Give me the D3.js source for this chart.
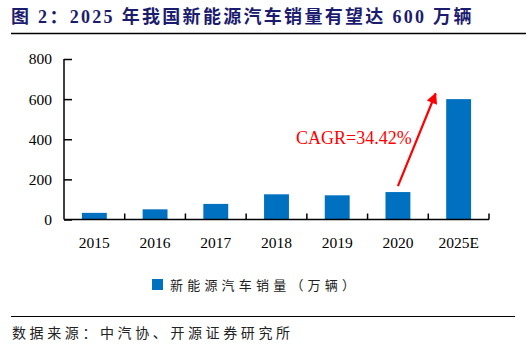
<!DOCTYPE html>
<html lang="zh">
<head>
<meta charset="UTF-8">
<title>新能源汽车销量</title>
<script src="https://cdn.jsdelivr.net/npm/d3@7/dist/d3.min.js"></script>
<style>
    body { margin: 0; background: #fff; }
    svg { display: block; }
</style>
</head>
<body>
<svg width="529" height="351"></svg>
<script>
    // 数据
    var years = ['2015', '2016', '2017', '2018', '2019', '2020', '2025E'];
    var sales = [33.1, 50.7, 77.7, 125.6, 120.6, 136.7, 600];
    var yTicks = [0, 200, 400, 600, 800];

    var serif = '"Liberation Serif", "Times New Roman", "Noto Sans CJK SC", serif';
    var svg = d3.select('svg');

    // 标题
    svg.append('text')
        .attr('x', 11).attr('y', 23)
        .attr('font-family', serif)
        .attr('font-weight', 'bold')
        .attr('font-size', 18)
        .attr('letter-spacing', 2.3)
        .attr('fill', '#1c1c6e')
        .text('图 2：2025 年我国新能源汽车销量有望达 600 万辆');
    svg.append('line')
        .attr('x1', 11).attr('x2', 526).attr('y1', 33.5).attr('y2', 33.5)
        .attr('stroke', '#000').attr('stroke-width', 1.5);

    // 比例尺
    var x = d3.scaleBand()
        .domain(years)
        .range([64, 489])
        .paddingInner(0.59)
        .paddingOuter(0.295);
    var y = d3.scaleLinear()
        .domain([0, 800])
        .range([219.5, 59]);

    var g = svg.append('g');

    // 柱子
    g.selectAll('.bar')
        .data(sales)
        .enter()
        .append('rect')
        .attr('class', 'bar')
        .attr('x', function (d, i) { return x(years[i]); })
        .attr('width', x.bandwidth())
        .attr('y', function (d) { return y(d); })
        .attr('height', function (d) { return y(0) - y(d); })
        .attr('fill', '#0070c0');

    // y轴
    var yAxis = d3.axisLeft(y).tickValues(yTicks).tickSize(-8).tickPadding(12);
    var gy = g.append('g').attr('transform', 'translate(64,0)').call(yAxis);
    gy.select('.domain').attr('stroke', '#000').attr('stroke-width', 1.5)
        .attr('d', 'M0,' + y(800) + 'V' + y(0));
    gy.selectAll('.tick line').attr('stroke', '#000').attr('stroke-width', 1.5);
    gy.selectAll('.tick text')
        .attr('font-family', serif).attr('font-size', 15.5).attr('fill', '#000');

    // x轴
    var gx = g.append('g').attr('transform', 'translate(0,' + y(0) + ')');
    gx.append('line')
        .attr('x1', x.range()[0]).attr('x2', x.range()[1])
        .attr('stroke', '#000').attr('stroke-width', 1.5);
    gx.selectAll('.xtick')
        .data(years)
        .enter()
        .append('line')
        .attr('x1', function (d, i) { return x.range()[0] + (i + 1) * x.step(); })
        .attr('x2', function (d, i) { return x.range()[0] + (i + 1) * x.step(); })
        .attr('y1', 0).attr('y2', -6)
        .attr('stroke', '#000').attr('stroke-width', 1.5);
    gx.selectAll('.xlab')
        .data(years)
        .enter()
        .append('text')
        .attr('x', function (d) { return x(d) + x.bandwidth() / 2; })
        .attr('y', 28)
        .attr('text-anchor', 'middle')
        .attr('font-family', serif).attr('font-size', 15.5)
        .text(function (d) { return d; });

    // CAGR 箭头
    var defs = svg.append('defs');
    defs.append('marker')
        .attr('id', 'arrow')
        .attr('viewBox', '0 0 10 10')
        .attr('refX', 9).attr('refY', 5)
        .attr('markerWidth', 6).attr('markerHeight', 5)
        .attr('markerUnits', 'strokeWidth')
        .attr('orient', 'auto')
        .append('path')
        .attr('d', 'M0,0L10,5L0,10Z')
        .attr('fill', '#ff0000');

    var x1 = x('2020') + x.bandwidth() / 2;
    var x2 = x('2025E') + x.bandwidth() / 2 - 23;
    g.append('line')
        .attr('x1', x1).attr('y1', y(166))
        .attr('x2', x2).attr('y2', y(628))
        .attr('stroke', '#ff0000').attr('stroke-width', 2.2)
        .attr('marker-end', 'url(#arrow)');

    g.append('text')
        .attr('x', 296).attr('y', y(378))
        .attr('font-family', serif).attr('font-size', 18)
        .attr('fill', '#ff0000')
        .text('CAGR=34.42%');

    // 图例
    var lg = svg.append('g').attr('transform', 'translate(152,279)');
    lg.append('rect').attr('width', 11).attr('height', 11).attr('fill', '#0070c0');
    lg.append('text')
        .attr('x', 18).attr('y', 10.5)
        .attr('font-family', serif).attr('font-size', 13)
        .attr('letter-spacing', 4.2)
        .attr('fill', '#222')
        .text('新能源汽车销量（万辆）');

    // 数据来源
    svg.append('line')
        .attr('x1', 11).attr('x2', 515).attr('y1', 316.5).attr('y2', 316.5)
        .attr('stroke', '#000').attr('stroke-width', 1.2);
    svg.append('text')
        .attr('x', 12).attr('y', 338)
        .attr('font-family', serif).attr('font-size', 14)
        .attr('letter-spacing', 3.6)
        .attr('fill', '#222')
        .text('数据来源：中汽协、开源证券研究所');
</script>
</body>
</html>
